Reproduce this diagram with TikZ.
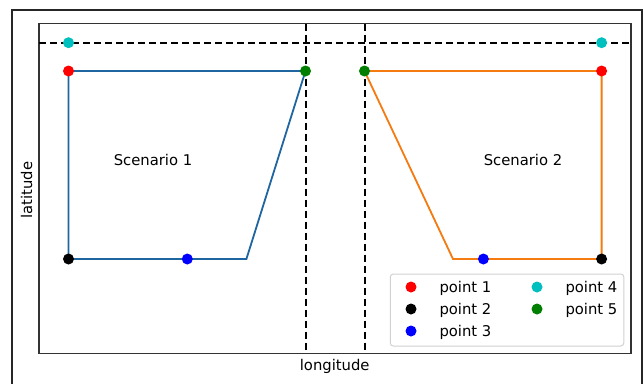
\documentclass[tikz,border=0pt]{standalone}
\usepackage{fontspec}
\setmainfont{DejaVu Sans}
\definecolor{lineA}{HTML}{1F65A0}
\definecolor{lineB}{HTML}{F57A10}
\definecolor{ptcyan}{HTML}{00BFBF}
\definecolor{ptgreen}{HTML}{007F00}
\tikzset{
  frameline/.style={line width=2pt, black!85},
  axesline/.style={line width=1.3pt, black!80},
  guide/.style={line width=2pt, black, dash pattern=on 7pt off 4pt},
  trackA/.style={line width=1.8pt, lineA, line join=miter},
  trackB/.style={line width=1.8pt, lineB, line join=miter},
  dot/.style={circle, inner sep=0pt, minimum size=11pt, draw=none},
  lbl/.style={font=\fontsize{14.8}{18}\selectfont, inner sep=0pt},
  legendbox/.style={draw=black!18, line width=1pt, rounded corners=3pt, fill=white, inner sep=0pt}
}
\begin{document}
\begin{tikzpicture}[x=1pt,y=-1pt]
\useasboundingbox (0,0) rectangle (644,383);
\begin{scope}
\clip (0,0) rectangle (644,383);
% outer frame (its lower edge lies below the page)
\draw[frameline] (12,395) -- (12,10) -- (641.5,10) -- (641.5,395);
\end{scope}

% axes box
\draw[axesline] (39,23.5) rectangle (631,353.3);

% positions
\coordinate (h0) at (39,42.7);
\coordinate (h1) at (631,42.7);
\coordinate (v0t) at (305.5,23.5);
\coordinate (v0b) at (305.5,353.3);
\coordinate (v1t) at (364.5,23.5);
\coordinate (v1b) at (364.5,353.3);

\coordinate (a1) at (68.5,71);
\coordinate (a2) at (68.5,259);
\coordinate (a3) at (187.3,259);
\coordinate (a4) at (68.5,42.7);
\coordinate (a5) at (305.5,71);
\coordinate (ak) at (246.4,259);

\coordinate (b1) at (601.6,71);
\coordinate (b2) at (601.6,259);
\coordinate (b3) at (483.4,259);
\coordinate (b4) at (601.6,42.7);
\coordinate (b5) at (364.5,71);
\coordinate (bk) at (453,259);

% guide lines
\draw[guide] (h0) -- (h1);
\draw[guide] (v0t) -- (v0b);
\draw[guide] (v1t) -- (v1b);

% tracks
\draw[trackA] (a1) -- (a5) -- (ak) -- (a2) -- cycle;
\draw[trackB] (b5) -- (b1) -- (b2) -- (bk) -- cycle;

% points
\node[dot, fill=red] (pa1) at (a1) {};
\node[dot, fill=black] (pa2) at (a2) {};
\node[dot, fill=blue] (pa3) at (a3) {};
\node[dot, fill=ptcyan] (pa4) at (a4) {};
\node[dot, fill=ptgreen] (pa5) at (a5) {};
\node[dot, fill=red] (pb1) at (b1) {};
\node[dot, fill=black] (pb2) at (b2) {};
\node[dot, fill=blue] (pb3) at (b3) {};
\node[dot, fill=ptcyan] (pb4) at (b4) {};
\node[dot, fill=ptgreen] (pb5) at (b5) {};

% labels
\node[lbl, anchor=base] (s1) at (153,165.7) {Scenario 1};
\node[lbl, anchor=base] (s2) at (523,165.7) {Scenario 2};
\node[lbl, anchor=base] (xl) at (334.7,370.5) {longitude};
\node[lbl, anchor=base, rotate=90] (yl) at (32,190) {latitude};

% legend
\node[legendbox, minimum width=233.5pt, minimum height=72pt] (leg) at (507,310) {};
\node[dot, fill=red] (l1) at (411,287) {};
\node[dot, fill=black] (l2) at (411,309) {};
\node[dot, fill=blue] (l3) at (411,331) {};
\node[dot, fill=ptcyan] (l4) at (537,287) {};
\node[dot, fill=ptgreen] (l5) at (537,309) {};
\node[lbl, anchor=base west] (t1) at (439.3,292.7) {point 1};
\node[lbl, anchor=base west] (t2) at (439.3,314.7) {point 2};
\node[lbl, anchor=base west] (t3) at (439.3,336.7) {point 3};
\node[lbl, anchor=base west] (t4) at (565.3,292.7) {point 4};
\node[lbl, anchor=base west] (t5) at (565.3,314.7) {point 5};
\end{tikzpicture}
\end{document}
